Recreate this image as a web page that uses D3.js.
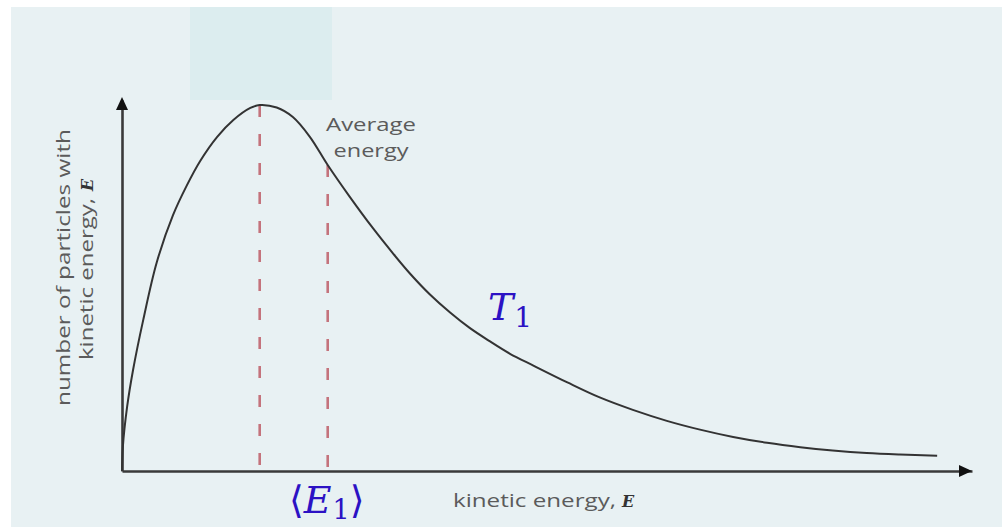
<!DOCTYPE html>
<html>
<head>
<meta charset="utf-8">
<script src="https://cdn.jsdelivr.net/npm/d3@7"></script>
<style>
  html, body { margin: 0; padding: 0; background: #ffffff; }
  svg { display: block; }
</style>
</head>
<body>
<svg id="chart" width="1002" height="527"></svg>
<script>
// Kinetic energy distribution of particles at temperature T1
const energy = [0, 0.01, 0.06, 0.13, 0.25, 0.41, 0.60, 0.76, 0.92, 1.12, 1.31, 1.51, 1.62,
  1.82, 2.01, 2.21, 2.42, 2.68, 2.95, 3.19, 3.39, 3.62, 3.86, 4.09, 4.33, 4.56, 4.84,
  5.24, 5.62, 6.01, 6.41, 6.80, 7.19, 7.59, 7.98, 8.36, 8.76, 9.15, 9.59];
const particles = [0, 6.6, 17.5, 27.6, 41.3, 57.1, 69.9, 77.9, 84.7, 91.3, 95.9, 99.2, 100,
  99.3, 96.7, 91.3, 83.6, 74.9, 66.4, 59.4, 53.9, 48.3, 43.3, 39.1, 35.4, 32.1, 28.8,
  24.2, 20.1, 16.7, 13.7, 11.3, 9.3, 7.7, 6.5, 5.6, 4.9, 4.5, 4.2];

// marked energies: most probable (peak) and average
const markedEnergies = [1.62, 2.42];

const yTitleLines = ["number of particles with", "kinetic energy,"];
const xTitle = "kinetic energy,";
const axisSymbol = "E";
const noteLines = ["Average", "energy"];

const svg = d3.select("#chart");

// background panel
svg.append("rect").attr("x", 11).attr("y", 7).attr("width", 991).attr("height", 520)
  .attr("fill", "#e8f1f3");
svg.append("rect").attr("x", 190).attr("y", 7).attr("width", 142).attr("height", 93)
  .attr("fill", "#dcedef");

const x = d3.scaleLinear().domain([0, 10]).range([122, 972]);
const y = d3.scaleLinear().domain([0, 100]).range([471, 105]);

const axisColor = "#3a3a3a";

// x axis
const xAxis = svg.append("g").attr("transform", `translate(0,${y(0)})`)
  .call(d3.axisBottom(x).ticks(0).tickSizeOuter(0));
xAxis.select(".domain").attr("stroke", axisColor).attr("stroke-width", 2.6);
// y axis
const yAxis = svg.append("g").attr("transform", `translate(${x(0)},0)`)
  .call(d3.axisLeft(y.copy().domain([0, 102]).range([471, 100])).ticks(0).tickSizeOuter(0));
yAxis.select(".domain").attr("stroke", axisColor).attr("stroke-width", 2.6);

// arrow heads
svg.append("path")
  .attr("d", `M${x(10)},${y(0)} L${x(10) - 13},${y(0) - 6} L${x(10) - 13},${y(0) + 6} Z`)
  .attr("fill", "#111");
svg.append("path")
  .attr("d", `M${x(0)},97 L${x(0) - 6},110 L${x(0) + 6},110 Z`)
  .attr("fill", "#111");

// dashed markers from the curve down to the axis
markedEnergies.forEach(e => {
  const i = energy.indexOf(e);
  svg.append("line")
    .attr("x1", x(e)).attr("x2", x(e))
    .attr("y1", y(particles[i])).attr("y2", y(0))
    .attr("stroke", "#c4737c").attr("stroke-width", 2.6)
    .attr("stroke-dasharray", "12,17");
});

// distribution curve
const line = d3.line().x((d, i) => x(energy[i])).y(d => y(d))
  .curve(d3.curveCatmullRom.alpha(0.5));
svg.append("path").datum(particles)
  .attr("d", line)
  .attr("fill", "none").attr("stroke", "#333").attr("stroke-width", 2);

const labelFont = "'Open Sans', 'DejaVu Sans', sans-serif";
const symbolFont = "'DejaVu Serif', serif";
const labelColor = "#5b5b5b";

// y title (rotated, two lines)
const yt = svg.append("g").attr("transform", "translate(70,268) rotate(-90)")
  .attr("font-family", labelFont).attr("font-size", 19).attr("fill", labelColor);
yt.append("text").attr("x", -138).attr("y", 0)
  .attr("textLength", 277).attr("lengthAdjust", "spacingAndGlyphs")
  .text(yTitleLines[0]);
yt.append("text").attr("x", -92).attr("y", 23)
  .attr("textLength", 162).attr("lengthAdjust", "spacingAndGlyphs")
  .text(yTitleLines[1]);
yt.append("text").attr("x", 77).attr("y", 23)
  .attr("font-family", symbolFont).attr("font-weight", "bold").attr("font-style", "italic")
  .attr("font-size", 16).attr("fill", "#333").text(axisSymbol);

// x title
const xt = svg.append("g").attr("font-family", labelFont).attr("font-size", 19).attr("fill", labelColor);
xt.append("text").attr("x", 453).attr("y", 507)
  .attr("textLength", 163).attr("lengthAdjust", "spacingAndGlyphs")
  .text(xTitle);
xt.append("text").attr("x", 622).attr("y", 507)
  .attr("font-family", symbolFont).attr("font-weight", "bold").attr("font-style", "italic")
  .attr("font-size", 16).attr("fill", "#333").text(axisSymbol);

// average energy note
const noteWidths = [90, 75];
noteLines.forEach((t, i) => {
  svg.append("text")
    .attr("x", 371 - noteWidths[i] / 2).attr("y", 131 + i * 26)
    .attr("textLength", noteWidths[i]).attr("lengthAdjust", "spacingAndGlyphs")
    .attr("font-family", labelFont).attr("font-size", 19).attr("fill", labelColor)
    .text(t);
});

// math annotations
const mathFont = "'DejaVu Serif', serif";
const blue = "#2c12c4";
const tLabel = svg.append("text").attr("x", 488).attr("y", 320)
  .attr("font-family", mathFont).attr("fill", blue).attr("font-size", 38);
tLabel.append("tspan").attr("font-style", "italic").text("T");
tLabel.append("tspan").attr("font-size", 28).attr("dy", 7).attr("dx", 1).text("1");

const eLabel = svg.append("text").attr("x", 289).attr("y", 513)
  .attr("font-family", mathFont).attr("fill", blue).attr("font-size", 38);
eLabel.append("tspan").text("\u27E8");
eLabel.append("tspan").attr("font-style", "italic").text("E");
eLabel.append("tspan").attr("font-size", 27).attr("dy", 6).attr("dx", 1).text("1");
eLabel.append("tspan").attr("dy", -6).text("\u27E9");
</script>
</body>
</html>
